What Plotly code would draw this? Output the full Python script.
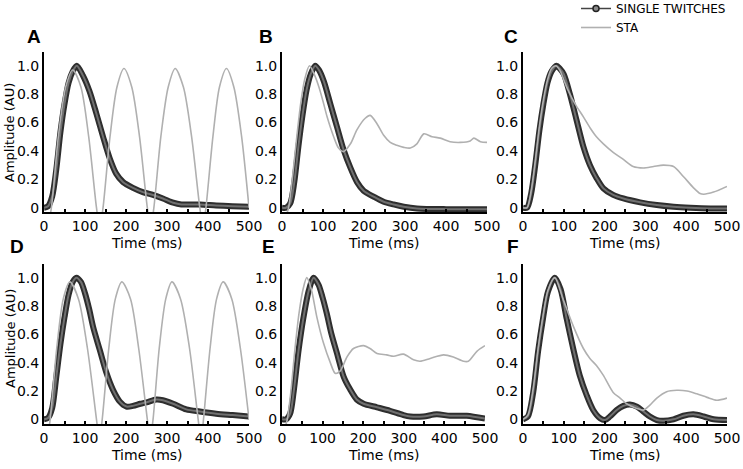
import plotly.graph_objects as go

# ---------------- data ----------------
A_tw_t = [0, 10, 20, 30, 40, 50, 60, 70, 80, 95, 111, 128, 144, 160, 176, 193, 217, 241, 266, 290, 315, 335, 380, 420, 460, 500]
A_tw   = [0, 0.01, 0.08, 0.27, 0.53, 0.73, 0.88, 0.96, 1.0, 0.93, 0.82, 0.66, 0.5, 0.35, 0.24, 0.18, 0.14, 0.11, 0.09, 0.065, 0.035, 0.023, 0.023, 0.015, 0.01, 0.007]
A_sta_t = [0, 18, 35, 53, 70, 90, 109, 128, 136, 144, 161, 178, 195, 214, 233, 252, 260, 268, 285, 303, 320, 340, 360, 380, 388, 395, 412, 428, 445, 463, 482, 500]
A_sta   = [-0.3, 0, 0.5, 0.85, 0.97, 0.85, 0.5, 0, -0.15, 0, 0.5, 0.85, 0.98, 0.85, 0.5, 0, -0.15, 0, 0.5, 0.85, 0.98, 0.85, 0.5, 0, -0.15, 0, 0.5, 0.85, 0.98, 0.85, 0.5, 0]

B_tw_t = [0, 10, 20, 30, 40, 50, 60, 70, 81, 90, 102, 118, 134, 150, 167, 183, 199, 224, 248, 272, 297, 329, 400, 500]
B_tw   = [0, 0.0, 0.03, 0.18, 0.43, 0.65, 0.83, 0.94, 1.0, 0.97, 0.89, 0.73, 0.57, 0.41, 0.28, 0.18, 0.12, 0.077, 0.042, 0.023, 0.007, -0.005, -0.01, -0.01]
B_sta_t = [0, 10, 16, 25, 35, 45, 55, 67, 80, 90, 100, 110, 126, 138, 150, 167, 183, 203, 215, 232, 248, 264, 280, 297, 313, 329, 346, 366, 386, 410, 435, 459, 468, 484, 500]
B_sta   = [-0.08, -0.05, 0.0, 0.2, 0.47, 0.72, 0.9, 1.0, 0.93, 0.85, 0.75, 0.64, 0.5, 0.42, 0.395, 0.45, 0.55, 0.63, 0.65, 0.59, 0.51, 0.46, 0.44, 0.425, 0.42, 0.45, 0.52, 0.5, 0.49, 0.465, 0.46, 0.47, 0.49, 0.465, 0.46]

C_tw_t = [0, 10, 20, 30, 40, 50, 60, 70, 82, 90, 100, 115, 131, 148, 164, 180, 197, 221, 246, 287, 328, 369, 410, 460, 500]
C_tw   = [0, 0.0, 0.1, 0.3, 0.54, 0.73, 0.88, 0.96, 1.0, 0.98, 0.94, 0.8, 0.62, 0.43, 0.3, 0.21, 0.136, 0.09, 0.065, 0.038, 0.019, 0.007, 0.0, -0.005, -0.005]
C_sta_t = [0, 10, 20, 30, 40, 50, 60, 70, 80, 90, 100, 110, 128, 148, 165, 180, 197, 221, 246, 270, 295, 320, 344, 369, 393, 418, 434, 443, 467, 500]
C_sta   = [0, 0.0, 0.12, 0.33, 0.57, 0.76, 0.9, 0.98, 1.0, 0.97, 0.9, 0.83, 0.73, 0.64, 0.56, 0.5, 0.45, 0.39, 0.34, 0.29, 0.28, 0.29, 0.3, 0.29, 0.22, 0.14, 0.1, 0.095, 0.11, 0.15]

D_tw_t = [0, 10, 20, 30, 40, 50, 60, 70, 79, 90, 100, 110, 120, 136, 152, 168, 185, 201, 217, 235, 250, 274, 290, 315, 347, 380, 420, 460, 500]
D_tw   = [0, 0.01, 0.08, 0.3, 0.53, 0.72, 0.88, 0.97, 1.0, 0.97, 0.89, 0.78, 0.65, 0.49, 0.33, 0.21, 0.125, 0.09, 0.095, 0.11, 0.12, 0.14, 0.135, 0.11, 0.07, 0.055, 0.04, 0.03, 0.02]
D_sta_t = [0, 15, 31, 47, 63, 84, 106, 128, 135, 142, 158, 174, 190, 211, 231, 252, 259, 266, 281, 297, 312, 333, 355, 376, 383, 389, 405, 421, 437, 458, 479, 500]
D_sta   = [-0.3, 0, 0.5, 0.85, 0.97, 0.85, 0.5, 0, -0.15, 0, 0.5, 0.85, 0.97, 0.85, 0.5, 0, -0.15, 0, 0.5, 0.85, 0.97, 0.85, 0.5, 0, -0.15, 0, 0.5, 0.85, 0.97, 0.85, 0.5, 0]

E_tw_t = [0, 10, 20, 29, 41, 53, 66, 78, 90, 100, 110, 122, 135, 152, 168, 184, 201, 234, 266, 299, 316, 348, 381, 414, 455, 500]
E_tw   = [0, 0.0, 0.04, 0.2, 0.49, 0.72, 0.91, 1.0, 0.95, 0.86, 0.75, 0.6, 0.47, 0.3, 0.21, 0.14, 0.11, 0.085, 0.06, 0.03, 0.02, 0.02, 0.035, 0.025, 0.025, 0.005]
E_sta_t = [0, 8, 13, 22, 32, 42, 52, 61, 72, 86, 102, 119, 131, 143, 160, 176, 201, 217, 234, 258, 275, 299, 324, 340, 365, 398, 422, 447, 459, 480, 500]
E_sta   = [-0.08, -0.05, 0.0, 0.2, 0.5, 0.75, 0.92, 1.0, 0.92, 0.72, 0.54, 0.4, 0.325, 0.34, 0.44, 0.5, 0.52, 0.5, 0.465, 0.455, 0.445, 0.46, 0.42, 0.41, 0.43, 0.455, 0.44, 0.41, 0.41, 0.48, 0.52]

F_tw_t = [0, 12, 25, 37, 49, 61, 78, 92, 107, 123, 139, 156, 172, 189, 201, 213, 230, 246, 262, 279, 295, 311, 328, 344, 369, 393, 418, 443, 467, 500]
F_tw   = [0, 0.02, 0.19, 0.48, 0.71, 0.9, 1.0, 0.92, 0.71, 0.5, 0.31, 0.17, 0.066, 0.007, -0.005, 0.02, 0.066, 0.095, 0.105, 0.09, 0.055, 0.02, -0.005, -0.01, 0.0, 0.025, 0.035, 0.02, 0.0, -0.005]
F_sta_t = [0, 12, 25, 37, 49, 61, 78, 98, 123, 148, 164, 180, 197, 221, 238, 254, 279, 295, 311, 328, 352, 377, 402, 426, 451, 475, 500]
F_sta   = [0, 0.03, 0.22, 0.5, 0.73, 0.91, 1.0, 0.85, 0.66, 0.5, 0.43, 0.38, 0.31, 0.19, 0.15, 0.11, 0.077, 0.065, 0.1, 0.15, 0.195, 0.205, 0.2, 0.18, 0.155, 0.135, 0.15]

panel_labels = ["A", "B", "C", "D", "E", "F"]
x_tick_vals = [0, 100, 200, 300, 400, 500]
y_tick_vals = [0, 0.2, 0.4, 0.6, 0.8, 1.0]
y_tick_text = ["0", "0.2", "0.4", "0.6", "0.8", "1.0"]
x_title = "Time (ms)"
y_title = "Amplitude (AU)"
legend_names = ["SINGLE TWITCHES", "STA"]

panels = [
    (A_tw_t, A_tw, A_sta_t, A_sta),
    (B_tw_t, B_tw, B_sta_t, B_sta),
    (C_tw_t, C_tw, C_sta_t, C_sta),
    (D_tw_t, D_tw, D_sta_t, D_sta),
    (E_tw_t, E_tw, E_sta_t, E_sta),
    (F_tw_t, F_tw, F_sta_t, F_sta),
]

# ---------------- layout geometry ----------------
W, H = 743, 469
x_px = [(44, 249), (282, 487), (523, 727), (44, 249), (282, 485), (523, 727)]
y_px = [(51.5, 212.4), (51.5, 212.4), (51.5, 212.4), (263.5, 424.0), (263.5, 424.0), (263.5, 424.0)]

TW_DARK = "#2e2e2e"
TW_MID = "#707070"
STA_COL = "#b0b0b0"
FONT = "DejaVu Sans"

fig = go.Figure()
layout = dict(
    width=W, height=H,
    margin=dict(l=0, r=0, t=0, b=0, autoexpand=False),
    paper_bgcolor="white", plot_bgcolor="white",
    showlegend=True,
    font=dict(family=FONT, color="black"),
)

for i, (tw_t, tw, st_t, st) in enumerate(panels):
    n = i + 1
    xa = "x" if n == 1 else f"x{n}"
    ya = "y" if n == 1 else f"y{n}"
    fig.add_trace(go.Scatter(x=tw_t, y=tw, xaxis=xa, yaxis=ya, mode="lines",
                             line=dict(color=TW_DARK, width=6, shape="spline", smoothing=0.8),
                             showlegend=False, hoverinfo="skip"))
    fig.add_trace(go.Scatter(x=tw_t, y=tw, xaxis=xa, yaxis=ya, mode="lines",
                             line=dict(color=TW_MID, width=2, shape="spline", smoothing=0.8),
                             showlegend=False, hoverinfo="skip"))
    fig.add_trace(go.Scatter(x=st_t, y=st, xaxis=xa, yaxis=ya, mode="lines",
                             line=dict(color=STA_COL, width=1.6, shape="spline", smoothing=0.8),
                             name=legend_names[1], legendrank=2,
                             showlegend=(n == 1), hoverinfo="skip"))
    x0, x1 = x_px[i]
    yt, yb = y_px[i]
    layout["xaxis" if n == 1 else f"xaxis{n}"] = dict(
        domain=[x0 / W, x1 / W], anchor=ya, range=[0, 500],
        showline=True, linecolor="black", linewidth=2,
        tickvals=x_tick_vals, ticks="inside", ticklen=3, tickwidth=1.5, tickcolor="black",
        minor=dict(dtick=50, tick0=0, ticks="inside", ticklen=3, tickwidth=1.5, tickcolor="black"),
        showgrid=False, zeroline=False, fixedrange=True, automargin=False,
        tickfont=dict(family=FONT, size=14, color="black"),
    )
    layout["yaxis" if n == 1 else f"yaxis{n}"] = dict(
        domain=[1 - yb / H, 1 - yt / H], anchor=xa, range=[-0.033, 1.1],
        showline=True, linecolor="black", linewidth=2,
        tickvals=y_tick_vals, ticktext=y_tick_text, ticks="",
        showgrid=False, zeroline=False, fixedrange=True, automargin=False,
        tickfont=dict(family=FONT, size=14, color="black"),
    )

# legend-only entry for the single twitches (line with circle marker)
fig.add_trace(go.Scatter(x=[None], y=[None], mode="lines+markers", name=legend_names[0],
                         line=dict(color="#444444", width=1.5),
                         marker=dict(symbol="circle", size=6, color="#8a8a8a",
                                     line=dict(color="#222222", width=1.5)),
                         legendrank=1, showlegend=True))

layout["legend"] = dict(x=576 / W, xanchor="left", y=1 + 6 / H, yanchor="top",
                        font=dict(family=FONT, size=12, color="black"),
                        bgcolor="rgba(0,0,0,0)", tracegroupgap=0, itemwidth=30)

ann = []
letter_pos = [(34, 36), (266, 36), (511, 36), (17, 246), (268, 246), (513, 246)]
for lab, (px, py) in zip(panel_labels, letter_pos):
    ann.append(dict(text=f"<b>{lab}</b>", x=px / W, y=1 - py / H, xref="paper", yref="paper",
                    showarrow=False, xanchor="center", yanchor="middle",
                    font=dict(family="Liberation Sans", size=19, color="black")))
for i in range(6):
    x0, x1 = x_px[i]
    cy = 243 if i < 3 else 455
    ann.append(dict(text=x_title, x=(x0 + x1) / 2 / W, y=1 - cy / H, xref="paper", yref="paper",
                    showarrow=False, xanchor="center", yanchor="middle",
                    font=dict(family=FONT, size=14, color="black")))
for cy in (133, 339):
    ann.append(dict(text=y_title, x=10 / W, y=1 - cy / H, xref="paper", yref="paper",
                    showarrow=False, xanchor="center", yanchor="middle", textangle=-90,
                    font=dict(family=FONT, size=13, color="black")))
layout["annotations"] = ann

fig.update_layout(**layout)
fig.write_html("out.html", config={"displayModeBar": False},
               post_script="document.body.style.margin='0';document.body.style.overflow='hidden';")
